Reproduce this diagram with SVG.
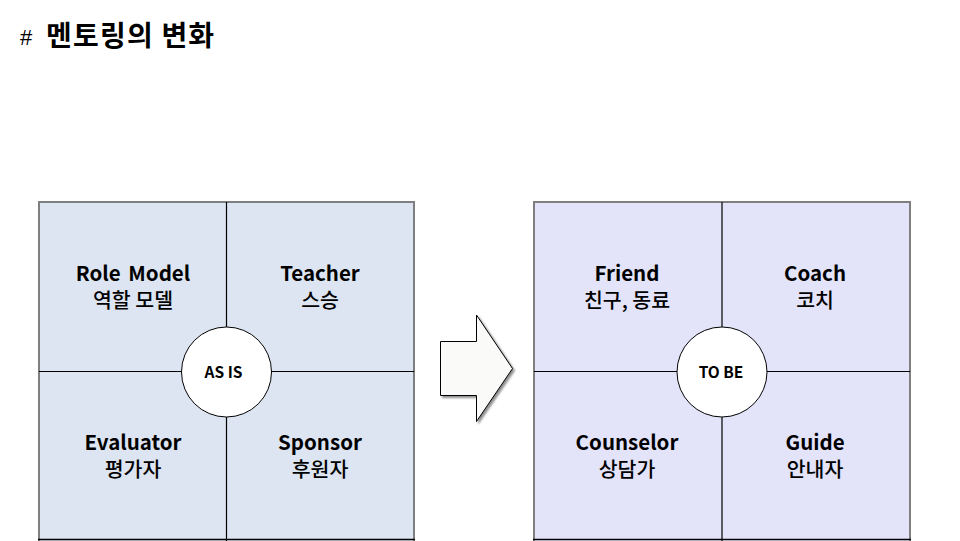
<svg xmlns="http://www.w3.org/2000/svg" width="960" height="541" viewBox="0 0 960 541">
<style>
text{font-family:"Malgun Gothic","Noto Sans CJK KR","Noto Sans",sans-serif;fill:#000;font-weight:bold;text-anchor:middle}
.lab{font-size:20.5px}
.kr{font-size:20.5px;font-weight:500}
.ctr{font-size:15.5px}
.div{stroke:#000;stroke-width:1.2;fill:none}
.outer{stroke:#7f7f7f;stroke-width:2}
.circ{fill:#fff;stroke:#000;stroke-width:1}
</style>
<defs>
<filter id="sh" x="-20%" y="-20%" width="150%" height="150%">
<feDropShadow dx="2" dy="2" stdDeviation="1" flood-color="#000" flood-opacity="0.45"/>
</filter>
</defs>
<rect width="960" height="541" fill="#fff"/>
<g id="title">
<text x="20" y="45" style="font-family:'Liberation Sans',sans-serif;font-size:22px;text-anchor:start;font-weight:normal">#</text>
<text x="46" y="46" style="font-size:28px;text-anchor:start;font-weight:bold;letter-spacing:1.2px">멘토링의 변화</text>
</g>
<g id="asis-box">
<rect x="39" y="202" width="375" height="340" fill="#dce5f1" class="outer"/>
</g>
<g id="tobe-box">
<rect x="534" y="202" width="376" height="340" fill="#e3e3fa" class="outer"/>
</g>
<g id="connectors">
<line class="div" x1="226.5" y1="202" x2="226.5" y2="541"/>
<line class="div" x1="39" y1="371.5" x2="414" y2="371.5"/>
<line class="div" x1="722" y1="202" x2="722" y2="541"/>
<line class="div" x1="534" y1="371.5" x2="910" y2="371.5"/>
<line x1="38" y1="539.5" x2="415" y2="539.5" stroke="#000" stroke-width="1.5"/>
<line x1="533" y1="539.5" x2="911" y2="539.5" stroke="#000" stroke-width="1.5"/>
</g>
<g id="role-model"><text class="lab" x="133" y="281" style="word-spacing:3px">Role Model</text><text class="kr" x="133" y="308">역할 모델</text></g>
<g id="teacher"><text class="lab" x="320" y="281">Teacher</text><text class="kr" x="320" y="308">스승</text></g>
<g id="evaluator"><text class="lab" x="133" y="450">Evaluator</text><text class="kr" x="133" y="477">평가자</text></g>
<g id="sponsor"><text class="lab" x="320" y="450">Sponsor</text><text class="kr" x="320" y="477">후원자</text></g>
<g id="asis"><circle class="circ" cx="226.5" cy="372" r="45"/><text class="ctr" x="223.5" y="378">AS IS</text></g>
<g id="friend"><text class="lab" x="627" y="281">Friend</text><text class="kr" x="627" y="308">친구, 동료</text></g>
<g id="coach"><text class="lab" x="815" y="281">Coach</text><text class="kr" x="815" y="308">코치</text></g>
<g id="counselor"><text class="lab" x="627" y="450">Counselor</text><text class="kr" x="627" y="477">상담가</text></g>
<g id="guide"><text class="lab" x="815" y="450">Guide</text><text class="kr" x="815" y="477">안내자</text></g>
<g id="tobe"><circle class="circ" cx="722" cy="372" r="45"/><text class="ctr" x="721" y="378">TO BE</text></g>
<g id="arrow">
<polygon points="440.5,341.5 476.5,341.5 476.5,315 512.5,368.5 476.5,421.5 476.5,395.5 440.5,395.5" fill="#fafaf8" stroke="#000" stroke-width="1" filter="url(#sh)"/>
</g>
</svg>
